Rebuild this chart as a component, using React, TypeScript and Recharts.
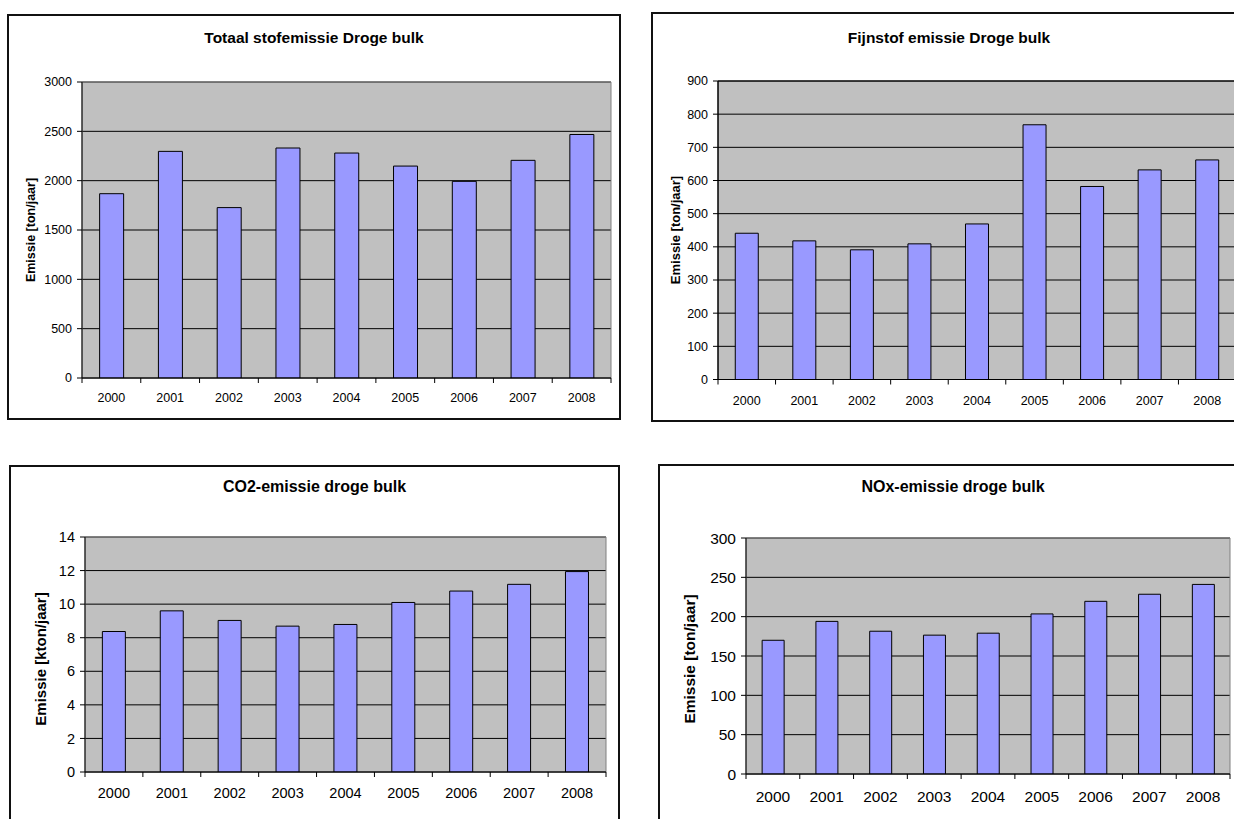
import React from 'react';
import { BarChart, Bar, XAxis, YAxis, CartesianGrid, ReferenceArea } from 'recharts';

// Years shown on every panel
const years = ['2000', '2001', '2002', '2003', '2004', '2005', '2006', '2007', '2008'];

// Totaal stofemissie droge bulk [ton/jaar]
const totaalStof = [1868, 2297, 1727, 2331, 2280, 2148, 1993, 2206, 2468];
const totaalTicks = [0, 500, 1000, 1500, 2000, 2500, 3000];

// Fijnstof emissie droge bulk [ton/jaar]
const fijnstof = [441, 418, 391, 409, 469, 768, 582, 632, 662];
const fijnstofTicks = [0, 100, 200, 300, 400, 500, 600, 700, 800, 900];

// CO2-emissie droge bulk [kton/jaar]
const co2 = [8.37, 9.6, 9.03, 8.69, 8.79, 10.1, 10.78, 11.18, 11.94];
const co2Ticks = [0, 2, 4, 6, 8, 10, 12, 14];

// NOx-emissie droge bulk [ton/jaar]
const nox = [170, 194, 181.5, 176.5, 179, 203.5, 219.5, 228.5, 241];
const noxTicks = [0, 50, 100, 150, 200, 250, 300];

const FONT = '"Liberation Sans", Arial, Helvetica, sans-serif';

type Rect = { left: number; top: number; width: number; height: number };
type Plot = { left: number; top: number; right: number; bottom: number };

type PanelProps = {
  box: Rect;
  plot: Plot;
  title: string;
  titleY: number;
  titleSize: number;
  yLabel: string;
  yLabelX: number;
  yLabelDy: number;
  yLabelSize: number;
  tickFont: number;
  xBaseline: number;
  values: number[];
  ticks: number[];
  plotBorder: string;
};

const CategoryTick = (props: any) => {
  const { x, y, payload, index, visibleTicksCount, fontSize, baseline, half } = props;
  const h = payload && typeof payload.offset === 'number' && payload.offset > 0 ? payload.offset : half;
  const isLast = index === visibleTicksCount - 1;
  return (
    <g>
      <line x1={x - h} x2={x - h} y1={y} y2={y + 5} stroke="#000" strokeWidth={1} />
      {isLast && <line x1={x + h} x2={x + h} y1={y} y2={y + 5} stroke="#000" strokeWidth={1} />}
      <text x={x} y={y + baseline} textAnchor="middle" fontSize={fontSize} fontFamily={FONT} fill="#000">
        {payload.value}
      </text>
    </g>
  );
};

function Panel(p: PanelProps) {
  const yAxisW = 70;
  const padTop = 14;
  const padRight = 14;
  const xAxisH = 40;
  const plotW = p.plot.right - p.plot.left;
  const plotH = p.plot.bottom - p.plot.top;
  const chartW = plotW + yAxisW + padRight;
  const chartH = plotH + padTop + xAxisH;
  const half = plotW / years.length / 2;
  const data = years.map((year, i) => ({ year, value: p.values[i] }));
  const yMax = p.ticks[p.ticks.length - 1];

  return (
    <>
      <div
        style={{
          position: 'absolute',
          left: p.box.left,
          top: p.box.top,
          width: p.box.width,
          height: p.box.height,
          boxSizing: 'border-box',
          border: '2px solid #111',
          background: '#fff',
        }}
      />
      <div
        style={{
          position: 'absolute',
          left: p.box.left,
          width: p.box.width,
          top: p.titleY - p.titleSize / 2,
          lineHeight: `${p.titleSize}px`,
          fontSize: p.titleSize,
          fontWeight: 'bold',
          fontFamily: FONT,
          textAlign: 'center',
          color: '#000',
          whiteSpace: 'nowrap',
        }}
      >
        {p.title}
      </div>
      <div
        style={{
          position: 'absolute',
          left: p.yLabelX,
          top: (p.plot.top + p.plot.bottom) / 2 + p.yLabelDy,
          transform: 'translate(-50%, -50%) rotate(-90deg)',
          fontSize: p.yLabelSize,
          lineHeight: `${p.yLabelSize}px`,
          fontWeight: 'bold',
          fontFamily: FONT,
          whiteSpace: 'nowrap',
          color: '#000',
        }}
      >
        {p.yLabel}
      </div>
      <div style={{ position: 'absolute', left: p.plot.left - yAxisW, top: p.plot.top - padTop }}>
        <BarChart
          width={chartW}
          height={chartH}
          data={data}
          margin={{ top: padTop, right: padRight, bottom: 0, left: 0 }}
          barCategoryGap="30%"
        >
          <CartesianGrid vertical={false} stroke="#000" strokeWidth={1} fill="#C0C0C0" fillOpacity={1} />
          <ReferenceArea y1={0} y2={yMax} fill="none" stroke={p.plotBorder} strokeWidth={1} ifOverflow="visible" />
          <XAxis
            dataKey="year"
            height={xAxisH}
            tickSize={0}
            tickMargin={0}
            tickLine={false}
            axisLine={{ stroke: '#000', strokeWidth: 1 }}
            interval={0}
            tick={(tp: any) => (
              <CategoryTick {...tp} fontSize={p.tickFont} baseline={p.xBaseline} half={half} />
            )}
          />
          <YAxis
            width={yAxisW}
            domain={[0, yMax]}
            ticks={p.ticks}
            interval={0}
            allowDataOverflow
            tickSize={5}
            tickMargin={5}
            axisLine={{ stroke: '#000', strokeWidth: 1 }}
            tickLine={{ stroke: '#000', strokeWidth: 1 }}
            tick={{ fontSize: p.tickFont, fill: '#000', fontFamily: FONT }}
          />
          <Bar dataKey="value" fill="#9999FF" stroke="#000" strokeWidth={1} isAnimationActive={false} />
        </BarChart>
      </div>
    </>
  );
}

export default function App() {
  return (
    <div
      style={{
        position: 'fixed',
        left: 0,
        top: 0,
        width: 1234,
        height: 819,
        overflow: 'hidden',
        background: '#fff',
      }}
    >
      <Panel
        box={{ left: 7, top: 14, width: 614, height: 406 }}
        plot={{ left: 82, top: 82, right: 611, bottom: 378 }}
        title="Totaal stofemissie Droge bulk"
        titleY={38}
        titleSize={15.5}
        yLabel="Emissie [ton/jaar]"
        yLabelX={31}
        yLabelDy={0}
        yLabelSize={12.5}
        tickFont={12.5}
        xBaseline={23.5}
        values={totaalStof}
        ticks={totaalTicks}
        plotBorder="#808080"
      />
      <Panel
        box={{ left: 651, top: 12, width: 596, height: 410 }}
        plot={{ left: 718, top: 80.5, right: 1236, bottom: 379 }}
        title="Fijnstof emissie Droge bulk"
        titleY={38}
        titleSize={15.5}
        yLabel="Emissie [ton/jaar]"
        yLabelX={675}
        yLabelDy={0}
        yLabelSize={13}
        tickFont={12.5}
        xBaseline={25}
        values={fijnstof}
        ticks={fijnstofTicks}
        plotBorder="#000"
      />
      <Panel
        box={{ left: 9, top: 465, width: 611, height: 370 }}
        plot={{ left: 85, top: 537, right: 606, bottom: 772 }}
        title="CO2-emissie droge bulk"
        titleY={486.5}
        titleSize={16}
        yLabel="Emissie [kton/jaar]"
        yLabelX={40}
        yLabelDy={4}
        yLabelSize={15}
        tickFont={14.5}
        xBaseline={26}
        values={co2}
        ticks={co2Ticks}
        plotBorder="#808080"
      />
      <Panel
        box={{ left: 658, top: 464, width: 590, height: 370 }}
        plot={{ left: 746, top: 538, right: 1230, bottom: 774 }}
        title="NOx-emissie droge bulk"
        titleY={486.5}
        titleSize={16}
        yLabel="Emissie [ton/jaar]"
        yLabelX={690}
        yLabelDy={3}
        yLabelSize={15.5}
        tickFont={15.5}
        xBaseline={28}
        values={nox}
        ticks={noxTicks}
        plotBorder="#808080"
      />
    </div>
  );
}
